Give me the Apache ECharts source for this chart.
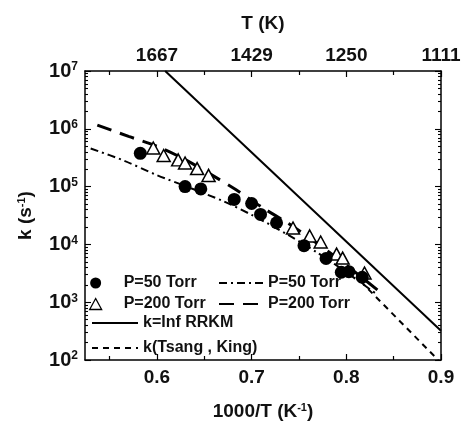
<!DOCTYPE html>
<html><head><meta charset="utf-8">
<script src="https://cdn.jsdelivr.net/npm/echarts@6/dist/echarts.min.js"></script>
<style>html,body{margin:0;padding:0;background:#fff}#c{width:463px;height:424px}</style>
</head><body><div id="c"></div>
<script>
// ---- data ----
const xP50 = [0.5824,0.6297,0.6463,0.6816,0.7000,0.7094,0.7263,0.7553,0.7786,0.7947,0.8027,0.8168];
const kP50 = [3.77e5,1.0e5,9.1e4,6.0e4,5.1e4,3.3e4,2.37e4,9.5e3,5.7e3,3.3e3,3.37e3,2.7e3];
const xP200 = [0.5961,0.6071,0.6224,0.6297,0.6424,0.6545,0.7437,0.7613,0.7729,0.7897,0.7961,0.8192];
const kP200 = [4.65e5,3.45e5,2.9e5,2.56e5,2.05e5,1.56e5,1.92e4,1.4e4,1.1e4,6.8e3,5.8e3,3.2e3];
const xFit50 = [0.530,0.565,0.600,0.635,0.670,0.700,0.738,0.770,0.800,0.832];
const kFit50 = [4.57e5,2.82e5,1.58e5,9.5e4,5.6e4,3.24e4,1.48e4,7.1e3,3.3e3,1.38e3];
const xFit200 = [0.537,0.570,0.600,0.626,0.656,0.684,0.713,0.739,0.770,0.800,0.834];
const kFit200 = [1.16e6,7.4e5,5.0e5,3.16e5,1.66e5,8.7e4,4.17e4,2.29e4,1.02e4,4.37e3,1.58e3];
const xRRKM = [0.6087,0.9];
const kRRKM = [1.0e7,320];
const xTK = [0.815,0.897];
const kTK = [2.3e3,100];
const xTicks = [0.6,0.7,0.8,0.9];
const xMinorTicks = [0.55,0.65,0.75,0.85];
const topTickLabels = ['1667','1429','1250','1111'];
const yTicks = [1e2,1e3,1e4,1e5,1e6,1e7];
const yTickExp = ['2','3','4','5','6','7'];

// ---- build ----
const zip = (xs, ys) => xs.map((x, i) => [x, ys[i]]);
const yMinorTicks = [];
yTicks.slice(0, -1).forEach(d => { for (let m = 2; m <= 9; m++) yMinorTicks.push(d * m); });

const FONT = 'Arial, "Liberation Sans", sans-serif';
const INK = '#111';
const titleStyle = {
  fontSize: 19, fontWeight: 'bold', color: INK, fontFamily: FONT,
  rich: { s: { fontSize: 11, fontWeight: 'bold', color: INK, fontFamily: FONT, verticalAlign: 'top' } }
};
const axisLineStyle = { show: true, lineStyle: { color: '#000', width: 1.5 } };

function xAx(pos, major, opts) {
  return Object.assign({
    type: 'value', position: pos, min: 0.524, max: 0.9, gridIndex: 0,
    splitLine: { show: false },
    axisLine: major ? axisLineStyle : { show: false },
    axisTick: { show: true, inside: true, length: major ? 6 : 4,
      customValues: major ? xTicks : xMinorTicks, lineStyle: { color: '#000', width: 1.2 } },
    axisLabel: { show: false }
  }, opts || {});
}
function yAx(pos, major, opts) {
  return Object.assign({
    type: 'log', logBase: 10, position: pos, min: 100, max: 1e7, gridIndex: 0,
    splitLine: { show: false },
    axisLine: major ? axisLineStyle : { show: false },
    axisTick: { show: true, inside: true, length: major ? 6 : 3,
      customValues: major ? yTicks : yMinorTicks, lineStyle: { color: '#000', width: 1.1 } },
    axisLabel: { show: false }
  }, opts || {});
}

const chart = echarts.init(document.getElementById('c'), null, { renderer: 'canvas' });
const legendText = { fontSize: 16, fontWeight: 'bold', color: INK, fontFamily: FONT };
const hideSym = { opacity: 0, color: 'rgba(0,0,0,0)', borderWidth: 0 };
chart.setOption({
  animation: false,
  backgroundColor: '#fff',
  grid: { left: 85, top: 71, right: 22, bottom: 64, containLabel: false, outerBoundsMode: 'none' },
  xAxis: [
    xAx('bottom', true, {
      axisLabel: { show: true, customValues: xTicks, margin: 8, fontSize: 19, fontWeight: 'bold',
        color: INK, fontFamily: FONT, formatter: v => v.toFixed(1) },
      name: '1000/T (K{s|-1})', nameLocation: 'middle', nameGap: 42, nameTextStyle: titleStyle
    }),
    xAx('top', true, {
      axisLabel: { show: true, customValues: xTicks, margin: 6, fontSize: 19, fontWeight: 'bold',
        color: INK, fontFamily: FONT,
        formatter: v => { const i = xTicks.findIndex(t => Math.abs(t - v) < 1e-6); return i >= 0 ? topTickLabels[i] : ''; } },
      name: 'T (K)', nameLocation: 'middle', nameGap: 38, nameTextStyle: titleStyle
    }),
    xAx('bottom', false),
    xAx('top', false)
  ],
  yAxis: [
    yAx('left', true, {
      axisLabel: { show: true, customValues: yTicks, margin: 7,
        formatter: v => { const i = yTicks.findIndex(t => Math.abs(t - v) / t < 1e-6); return '{b|10}{s|' + (i >= 0 ? yTickExp[i] : '') + '}'; },
        rich: {
          b: { fontSize: 20, fontWeight: 'bold', color: INK, fontFamily: FONT },
          s: { fontSize: 12, fontWeight: 'bold', color: INK, fontFamily: FONT, verticalAlign: 'top' }
        } },
      name: 'k (s{s|-1})', nameLocation: 'middle', nameGap: 50, nameTextStyle: titleStyle
    }),
    yAx('right', true),
    yAx('left', false),
    yAx('right', false)
  ],
  legend: [
    { left: 89, top: 275, orient: 'vertical', padding: 0, itemGap: 5, itemWidth: 12, itemHeight: 11,
      symbolKeepAspect: true, selectedMode: false,
      textStyle: Object.assign({ padding: [0, 0, 0, 17] }, legendText),
      data: [
        { name: 'P=50 Torr', icon: 'circle', itemStyle: { color: '#000', opacity: 1 } },
        { name: 'P=200 Torr', icon: 'triangle', itemStyle: { color: '#fff', borderColor: '#000', borderWidth: 1.3, opacity: 1 } }
      ] },
    { left: 218, top: 275, orient: 'vertical', padding: 0, itemGap: 5, itemWidth: 44, itemHeight: 11,
      selectedMode: false, textStyle: legendText,
      data: [ { name: 'P=50 Torr ', itemStyle: hideSym }, { name: 'P=200 Torr ', itemStyle: hideSym } ] },
    { left: 91, top: 315, orient: 'vertical', padding: 0, itemGap: 9, itemWidth: 46, itemHeight: 11,
      selectedMode: false, textStyle: legendText,
      data: [ { name: 'k=Inf RRKM', itemStyle: hideSym }, { name: 'k(Tsang , King)', itemStyle: hideSym } ] }
  ],
  series: [
    { name: 'k=Inf RRKM', type: 'line', data: zip(xRRKM, kRRKM), symbol: 'none',
      lineStyle: { color: '#000', width: 2 }, itemStyle: { color: '#000' }, z: 2 },
    { name: 'k(Tsang , King)', type: 'line', data: zip(xTK, kTK), symbol: 'none',
      lineStyle: { color: '#000', width: 2, type: [6, 5] }, itemStyle: { color: '#000' }, z: 2 },
    { name: 'P=50 Torr ', type: 'line', data: zip(xFit50, kFit50), symbol: 'none', smooth: 0.3,
      lineStyle: { color: '#000', width: 2, type: [8, 4, 2, 4] }, itemStyle: { color: '#000' }, z: 2 },
    { name: 'P=200 Torr ', type: 'line', data: zip(xFit200, kFit200), symbol: 'none', smooth: 0.3,
      lineStyle: { color: '#000', width: 3, type: [15, 9] }, itemStyle: { color: '#000' }, z: 2 },
    { name: 'P=200 Torr', type: 'scatter', data: zip(xP200, kP200), symbol: 'triangle', symbolSize: [13, 12],
      itemStyle: { color: '#fff', borderColor: '#000', borderWidth: 1.5, opacity: 1 }, z: 4 },
    { name: 'P=50 Torr', type: 'scatter', data: zip(xP50, kP50), symbol: 'circle', symbolSize: 13,
      itemStyle: { color: '#000', opacity: 1 }, z: 5 }
  ]
});
</script>
</body></html>
